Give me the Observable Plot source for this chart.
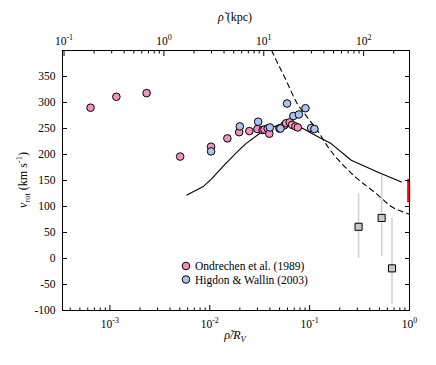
<!DOCTYPE html>
<html>
<head>
<meta charset="utf-8">
<script src="https://cdn.jsdelivr.net/npm/d3@7"></script>
<script src="https://cdn.jsdelivr.net/npm/@observablehq/plot@0.6"></script>
<style>
  html, body { margin: 0; padding: 0; background: white; }
  svg { display: block; }
</style>
</head>
<body>
<div id="chart"></div>
<script>
// conversion of rho/R_V to kpc for the top axis
const RV = 288;

// Ondrechen et al. (1989)
const pinkX = [6.4e-4, 1.16e-3, 2.33e-3, 5.05e-3, 0.0103, 0.0150, 0.0197, 0.0249, 0.0300, 0.0338, 0.0352, 0.0380, 0.0395, 0.0498, 0.0557, 0.0580, 0.0632, 0.0667, 0.0720, 0.0761];
const pinkY = [290, 311, 318, 196, 215, 231, 243, 245, 249, 247, 248, 250, 240, 250, 256, 260, 262, 257, 254, 252];

// Higdon & Wallin (2003)
const blueX = [0.0103, 0.0200, 0.0305, 0.0400, 0.0510, 0.0594, 0.0687, 0.0780, 0.0908, 0.1035, 0.1117];
const blueY = [206, 254, 263, 252, 250, 298, 274, 277, 289, 251, 249];

// solid model curve
const solidX = [0.0059, 0.0087, 0.0103, 0.0145, 0.0195, 0.023, 0.0352, 0.050, 0.0604, 0.082, 0.121, 0.164, 0.261, 0.484, 0.83];
const solidY = [122, 139, 152, 183, 208, 221, 247, 257, 260, 252, 234, 221, 189, 166, 147];

// dashed curve
const dashX = [0.0417, 0.0461, 0.058, 0.0731, 0.096, 0.119, 0.152, 0.261, 0.484, 0.658, 0.968, 1.0];
const dashY = [400, 382, 343, 302, 270, 247, 215, 164, 122, 100, 86, 85];

// gray squares with error bars
const sqX = [0.309, 0.526, 0.668];
const sqY = [61, 78, -19];
const sqLo = [0, 3, -88];
const sqHi = [125, 160, 78];

// red bar
const redX = [0.98];
const redLo = [107];
const redHi = [152];

// ticks
const yTicks = [-100, -50, 0, 50, 100, 150, 200, 250, 300, 350];
const xMajor = [1e-3, 1e-2, 1e-1, 1];
const xMinor = [4e-4,5e-4,6e-4,7e-4,8e-4,9e-4, 2e-3,3e-3,4e-3,5e-3,6e-3,7e-3,8e-3,9e-3, 0.02,0.03,0.04,0.05,0.06,0.07,0.08,0.09, 0.2,0.3,0.4,0.5,0.6,0.7,0.8,0.9];
const topMajorKpc = [0.1, 1, 10, 100];
const topMinorKpc = [0.2,0.3,0.4,0.5,0.6,0.7,0.8,0.9, 2,3,4,5,6,7,8,9, 20,30,40,50,60,70,80,90, 200];

const pts = (xs, ys) => xs.map((x, i) => ({x, y: ys[i]}));
const pink = pts(pinkX, pinkY);
const blue = pts(blueX, blueY);
const solid = pts(solidX, solidY);
const dashed = pts(dashX, dashY);
const squares = sqX.map((x, i) => ({x, y: sqY[i], lo: sqLo[i], hi: sqHi[i]}));
const red = redX.map((x, i) => ({x, lo: redLo[i], hi: redHi[i]}));

const PINK = "#f590c0", BLUE = "#a9c4f2", GRAY = "#c8c8c8";
const expFmt = v => "10|" + String(Math.round(Math.log10(v))).replace("−", "-");

const chartSvg = Plot.plot({
  width: 436, height: 365,
  marginTop: 50, marginBottom: 55, marginLeft: 62, marginRight: 27,
  style: {fontFamily: "'Liberation Serif', serif", fontSize: "11.5px", background: "white", color: "black"},
  x: {type: "log", domain: [3.35e-4, 1], label: null},
  y: {domain: [-100, 400], label: null},
  marks: [
    Plot.ruleX(squares, {x: "x", y1: "lo", y2: "hi", stroke: "#cfcfcf", strokeWidth: 1.5}),
    Plot.line(solid, {x: "x", y: "y", stroke: "black", strokeWidth: 1.1}),
    Plot.line(dashed, {x: "x", y: "y", stroke: "black", strokeWidth: 1.1, strokeDasharray: "5,4", curve: "monotone-x", clip: true}),
    Plot.ruleX(red, {x: "x", y1: "lo", y2: "hi", stroke: "red", strokeWidth: 3}),
    Plot.dot(squares, {x: "x", y: "y", symbol: "square", r: 4, fill: GRAY, stroke: "black", strokeWidth: 1}),
    Plot.dot(pink, {x: "x", y: "y", r: 3.8, fill: PINK, stroke: "black", strokeWidth: 1}),
    Plot.dot(blue, {x: "x", y: "y", r: 3.8, fill: BLUE, stroke: "black", strokeWidth: 1}),
    Plot.frame({stroke: "black", strokeWidth: 1}),
    // bottom axis
    Plot.axisX({anchor: "bottom", ticks: xMajor, tickSize: -5, fill: "none", label: null}),
    Plot.axisX({anchor: "bottom", ticks: xMinor, tickSize: -2.5, fill: "none", label: null}),
    Plot.axisX({anchor: "bottom", ticks: xMajor, tickSize: 0, tickPadding: 9, tickFormat: expFmt, label: null}),
    // top axis (kpc)
    Plot.axisX({anchor: "top", ticks: topMajorKpc.map(k => k / RV), tickSize: -5, fill: "none", label: null}),
    Plot.axisX({anchor: "top", ticks: topMinorKpc.map(k => k / RV), tickSize: -2.5, fill: "none", label: null}),
    Plot.text(topMajorKpc, {x: k => k / RV, text: k => expFmt(k), frameAnchor: "top", lineAnchor: "bottom", dy: -6}),
    // y axes
    Plot.axisY({anchor: "left", ticks: yTicks, tickSize: -5, fill: "none", label: null}),
    Plot.axisY({anchor: "right", ticks: yTicks, tickSize: -5, fill: "none", label: null}),
    Plot.axisY({anchor: "left", ticks: yTicks, tickSize: 0, tickPadding: 7, tickFormat: d => String(d), label: null})
  ]
});

const S = d3.select(chartSvg);
// superscripts on exponent labels
S.selectAll("text").each(function() {
  const t = d3.select(this);
  if (this.childElementCount === 0 && t.text().includes("|")) {
    const [b, e] = t.text().split("|");
    t.text(b);
    t.append("tspan").attr("font-size", "8px").attr("dy", "-5").text(e);
  }
});

const serif = "'Liberation Serif', serif";
// top label
const topLab = S.append("text").attr("x", 235).attr("y", 21).attr("text-anchor", "middle")
  .attr("font-family", serif).attr("font-size", 12).attr("fill", "black");
topLab.append("tspan").attr("font-style", "italic").text("ρ\u0303");
topLab.append("tspan").text("\u00a0(kpc)");

// bottom label
const botLab = S.append("text").attr("x", 235).attr("y", 339).attr("text-anchor", "middle")
  .attr("font-family", serif).attr("font-size", 12).attr("fill", "black");
botLab.append("tspan").attr("font-style", "italic").text("ρ\u0303/R");
botLab.append("tspan").attr("font-style", "italic").attr("font-size", 8.5).attr("dy", 3).text("V");

// y label
const yLab = S.append("text").attr("transform", "translate(27,180) rotate(-90)").attr("text-anchor", "middle")
  .attr("font-family", serif).attr("font-size", 12).attr("fill", "black");
yLab.append("tspan").attr("font-style", "italic").text("v");
yLab.append("tspan").attr("font-size", 8.5).attr("dy", 3).text("rot");
yLab.append("tspan").attr("dy", -3).text("\u00a0(km s");
yLab.append("tspan").attr("font-size", 8.5).attr("dy", -5).text("-1");
yLab.append("tspan").attr("dy", 5).text(")");

// legend
const legendItems = [{label: "Ondrechen et al. (1989)", color: PINK}, {label: "Higdon & Wallin (2003)", color: BLUE}];
const lg = S.append("g").attr("font-family", serif).attr("font-size", 11.5).attr("text-anchor", "start");
legendItems.forEach((d, i) => {
  const cy = 266 + i * 13.5;
  lg.append("circle").attr("cx", 186).attr("cy", cy).attr("r", 3.8).attr("fill", d.color).attr("stroke", "black");
  lg.append("text").attr("x", 195).attr("y", cy + 4).attr("fill", "black").text(d.label);
});

document.getElementById("chart").appendChild(chartSvg);
</script>
</body>
</html>
